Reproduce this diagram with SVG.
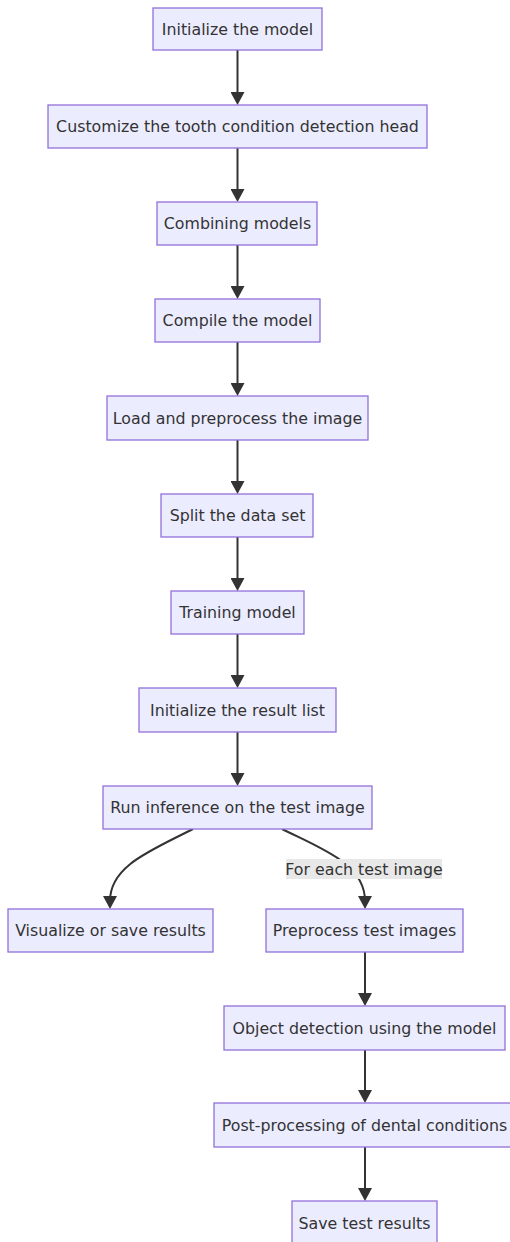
<svg xmlns="http://www.w3.org/2000/svg" width="510" height="1242" viewBox="0 0 510 1242">
  <style>
    .node rect { fill: #ECECFF; stroke: #9370DB; stroke-width: 1.3; }
    .node text, .edge-label text { font-family: "DejaVu Sans", sans-serif; font-size: 15.8px; fill: #333; text-anchor: middle; dominant-baseline: central; }
    .edge { fill: none; stroke: #333; stroke-width: 2; marker-end: url(#arrow); }
    .edge-label rect { fill: #e8e8e8; }
  </style>
  <defs>
    <marker id="arrow" markerUnits="userSpaceOnUse" markerWidth="14" markerHeight="14" refX="5" refY="7" orient="auto">
      <path d="M0,0 L13,7 L0,14 z" fill="#333"/>
    </marker>
  </defs>
  <rect width="510" height="1242" fill="#ffffff"/>

  <!-- connectors -->
  <g id="edges">
    <path class="edge" d="M237.5,50 L237.5,97"/>
    <path class="edge" d="M237.5,148 L237.5,194"/>
    <path class="edge" d="M237.5,245 L237.5,291"/>
    <path class="edge" d="M237.5,342 L237.5,388"/>
    <path class="edge" d="M237.5,440 L237.5,486"/>
    <path class="edge" d="M237.5,537 L237.5,583"/>
    <path class="edge" d="M237.5,634 L237.5,680"/>
    <path class="edge" d="M237.5,732 L237.5,778"/>
    <path class="edge" d="M193,829 C150,851 110,866 110,901"/>
    <path class="edge" d="M282,829 C322,849 365,864 365,901"/>
    <path class="edge" d="M365,952 L365,998"/>
    <path class="edge" d="M365,1050 L365,1095"/>
    <path class="edge" d="M365,1147 L365,1193"/>
    <g class="edge-label">
      <rect x="286" y="859" width="156" height="20"/>
      <text x="364" y="869">For each test image</text>
    </g>
  </g>

  <!-- nodes -->
  <g id="n1" class="node"><rect x="153" y="8" width="169" height="42"/><text x="237.5" y="29">Initialize the model</text></g>
  <g id="n2" class="node"><rect x="48" y="105" width="379" height="43"/><text x="237.5" y="126.5">Customize the tooth condition detection head</text></g>
  <g id="n3" class="node"><rect x="157" y="202" width="160" height="43"/><text x="237.5" y="223.5">Combining models</text></g>
  <g id="n4" class="node"><rect x="155" y="299" width="165" height="43"/><text x="237.5" y="320.5">Compile the model</text></g>
  <g id="n5" class="node"><rect x="107" y="396" width="261" height="44"/><text x="237.5" y="418">Load and preprocess the image</text></g>
  <g id="n6" class="node"><rect x="161" y="494" width="152" height="43"/><text x="237.5" y="515.5">Split the data set</text></g>
  <g id="n7" class="node"><rect x="171" y="591" width="133" height="43"/><text x="237.5" y="612.5">Training model</text></g>
  <g id="n8" class="node"><rect x="139" y="688" width="197" height="44"/><text x="237.5" y="710">Initialize the result list</text></g>
  <g id="n9" class="node"><rect x="103" y="786" width="269" height="43"/><text x="237.5" y="807.5">Run inference on the test image</text></g>
  <g id="n10" class="node"><rect x="8" y="909" width="205" height="43"/><text x="110.5" y="930.5">Visualize or save results</text></g>
  <g id="n11" class="node"><rect x="266" y="909" width="197" height="43"/><text x="364.5" y="930.5">Preprocess test images</text></g>
  <g id="n12" class="node"><rect x="224" y="1006" width="281" height="44"/><text x="364.5" y="1028">Object detection using the model</text></g>
  <g id="n13" class="node"><rect x="214" y="1103" width="301" height="44"/><text x="364.5" y="1125">Post-processing of dental conditions</text></g>
  <g id="n14" class="node"><rect x="292" y="1201" width="145" height="44"/><text x="364.5" y="1223">Save test results</text></g>
</svg>
